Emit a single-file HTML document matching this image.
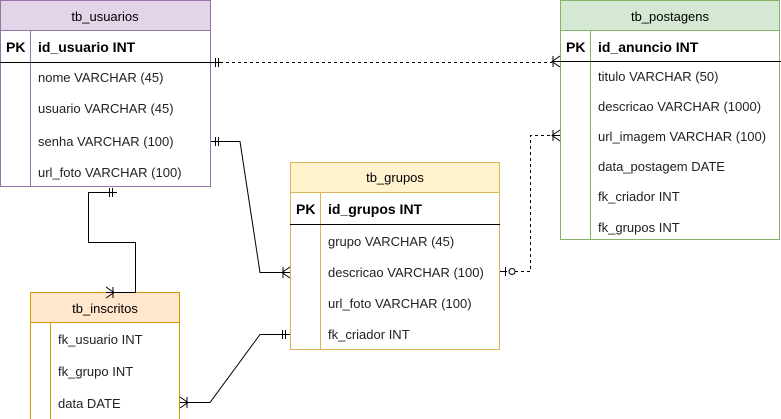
<!DOCTYPE html>
<html><head><meta charset="utf-8"><style>
html,body{margin:0;padding:0;background:#fff;}
svg{display:block;font-family:"Liberation Sans",Arial,sans-serif;}
</style></head><body>
<svg width="781" height="419" viewBox="0 0 781 419" xmlns="http://www.w3.org/2000/svg">
<!-- tb_usuarios -->
<rect x="0.5" y="0.5" width="210" height="186" fill="#fff" stroke="#9673a6"/>
<rect x="0.5" y="0.5" width="210" height="30" fill="#e1d5e7" stroke="#9673a6"/>
<line x1="30.5" y1="30" x2="30.5" y2="187" stroke="#9673a6"/>
<line x1="0" y1="62.5" x2="211" y2="62.5" stroke="#000"/>
<text x="105" y="21" font-size="13" text-anchor="middle">tb_usuarios</text>
<text x="6" y="52" font-size="14" font-weight="bold">PK</text>
<text x="38" y="52" font-size="14" font-weight="bold">id_usuario INT</text>
<g font-size="13" fill="#222">
<text x="38" y="82">nome VARCHAR (45)</text>
<text x="38" y="113">usuario VARCHAR (45)</text>
<text x="38" y="146">senha VARCHAR (100)</text>
<text x="38" y="177">url_foto VARCHAR (100)</text>
</g>
<!-- tb_postagens -->
<rect x="560.5" y="0.5" width="219" height="239" fill="#fff" stroke="#82b366"/>
<rect x="560.5" y="0.5" width="219" height="30" fill="#d5e8d4" stroke="#82b366"/>
<line x1="590.5" y1="30" x2="590.5" y2="240" stroke="#82b366"/>
<line x1="560" y1="61.5" x2="781" y2="61.5" stroke="#000"/>
<text x="670" y="21" font-size="13" text-anchor="middle">tb_postagens</text>
<text x="566" y="52" font-size="14" font-weight="bold">PK</text>
<text x="598" y="52" font-size="14" font-weight="bold">id_anuncio INT</text>
<g font-size="13" fill="#222">
<text x="598" y="81">titulo VARCHAR (50)</text>
<text x="598" y="111">descricao VARCHAR (1000)</text>
<text x="598" y="141">url_imagem VARCHAR (100)</text>
<text x="598" y="171">data_postagem DATE</text>
<text x="598" y="201">fk_criador INT</text>
<text x="598" y="232">fk_grupos INT</text>
</g>
<!-- tb_grupos -->
<rect x="290.5" y="162.5" width="209" height="187" fill="#fff" stroke="#d6b656"/>
<rect x="290.5" y="162.5" width="209" height="30" fill="#fff2cc" stroke="#d6b656"/>
<line x1="320.5" y1="192" x2="320.5" y2="350" stroke="#d6b656"/>
<line x1="290" y1="224.5" x2="500" y2="224.5" stroke="#000"/>
<text x="395" y="182" font-size="13" text-anchor="middle">tb_grupos</text>
<text x="296" y="214" font-size="14" font-weight="bold">PK</text>
<text x="328" y="214" font-size="14" font-weight="bold">id_grupos INT</text>
<g font-size="13" fill="#222">
<text x="328" y="246">grupo VARCHAR (45)</text>
<text x="328" y="277">descricao VARCHAR (100)</text>
<text x="328" y="308">url_foto VARCHAR (100)</text>
<text x="328" y="339">fk_criador INT</text>
</g>
<!-- tb_inscritos -->
<rect x="30.5" y="292.5" width="149" height="127" fill="#fff" stroke="#d79b00"/>
<rect x="30.5" y="292.5" width="149" height="30" fill="#ffe6cc" stroke="#d79b00"/>
<line x1="50.5" y1="322" x2="50.5" y2="419" stroke="#d79b00"/>
<text x="105" y="313" font-size="13" text-anchor="middle">tb_inscritos</text>
<g font-size="13" fill="#222">
<text x="58" y="344">fk_usuario INT</text>
<text x="58" y="376">fk_grupo INT</text>
<text x="58" y="408">data DATE</text>
</g>
<!-- connectors -->
<g fill="none" stroke="#000" stroke-width="1">
<path d="M211 62.5 H220" />
<path d="M220 62.5 H552" stroke-dasharray="3,3"/>
<path d="M552 61.5 H560"/>
<path d="M215.5 58 V67 M218.5 58 V67"/>
<path d="M560 56 L552 61.5 L560 67 M553 56 V67"/>
<path d="M211 141.5 H240 L260 272.5 H290"/>
<path d="M215.5 137 V146 M218.5 137 V146"/>
<path d="M290 267 L282 272.5 L290 278 M283 267 V278"/>
<path d="M117 192.5 H88.5 V242.5 H135.5 V292.5 H106"/>
<path d="M109.5 188 V197 M112.5 188 V197"/>
<path d="M106 287 L114 292.5 L106 298 M113 287 V298"/>
<path d="M180 402.5 H210 L260 334.5 H290"/>
<path d="M180 397 L188 402.5 L180 408 M187 397 V408"/>
<path d="M282.5 330 V339 M285.5 330 V339"/>
<path d="M500 271.5 H507"/>
<path d="M505.5 267 V276"/>
<circle cx="512" cy="271.5" r="3"/>
<path d="M515 271.5 H530.5 V135.5 H552" stroke-dasharray="3,3"/>
<path d="M552 135.5 H560"/>
<path d="M560 130 L552 135.5 L560 141 M553 130 V141"/>
</g>
</svg>
</body></html>
